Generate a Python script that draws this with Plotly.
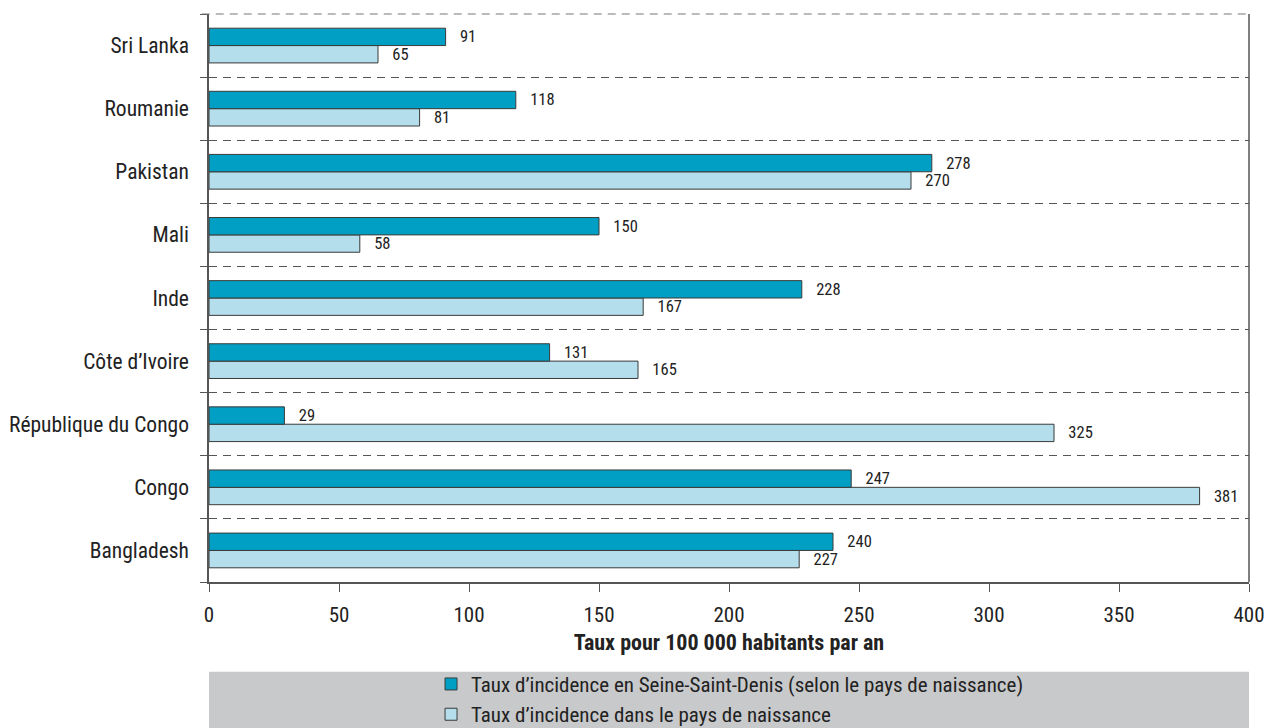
import plotly.graph_objects as go

countries = ["Bangladesh", "Congo", "République du Congo", "Côte d’Ivoire", "Inde",
             "Mali", "Pakistan", "Roumanie", "Sri Lanka"]
ssd_rate = [240, 247, 29, 131, 228, 150, 278, 118, 91]
birth_rate = [227, 381, 325, 165, 167, 58, 270, 81, 65]
x_ticks = [0, 50, 100, 150, 200, 250, 300, 350, 400]

name_ssd = "Taux d’incidence en Seine-Saint-Denis (selon le pays de naissance)"
name_birth = "Taux d’incidence dans le pays de naissance"

FONT = "Roboto Condensed, Archivo Narrow, Liberation Sans, sans-serif"
DARK = "#009fc3"
LIGHT = "#b4deeb"
LINE = "#3a3a3a"

fig = go.Figure()
fig.add_trace(go.Bar(
    y=countries, x=birth_rate, orientation="h", name=name_birth,
    marker=dict(color=LIGHT, line=dict(color=LINE, width=1)),
    text=[f"   {v}" for v in birth_rate], textposition="outside", constraintext="none",
    textfont=dict(size=16.5, color="#222", family=FONT), cliponaxis=False,
))
fig.add_trace(go.Bar(
    y=countries, x=ssd_rate, orientation="h", name=name_ssd,
    marker=dict(color=DARK, line=dict(color=LINE, width=1)),
    text=[f"   {v}" for v in ssd_rate], textposition="outside", constraintext="none",
    textfont=dict(size=16.5, color="#222", family=FONT), cliponaxis=False,
))

# grey legend band
fig.add_shape(type="rect", xref="paper", yref="paper", x0=0, x1=1, y0=-0.27, y1=-0.158,
              fillcolor="#c8c9cb", line=dict(width=0), layer="below")
# right border line
fig.add_shape(type="line", xref="paper", yref="paper", x0=1, x1=1, y0=0, y1=1,
              line=dict(color="#555", width=1.5))
# top dashed boundary line
fig.add_shape(type="line", xref="paper", yref="paper", x0=-0.007, x1=1, y0=1, y1=1,
              line=dict(color="#777", width=1, dash="8px,6px"))

fig.update_layout(
    width=1268, height=728,
    margin=dict(l=209, r=19, t=14, b=146, autoexpand=False),
    paper_bgcolor="white", plot_bgcolor="white",
    barmode="group", bargap=0.45, bargroupgap=0,
    font=dict(family=FONT, size=20, color="#222"),
    showlegend=True,
    legend=dict(x=0.2135, xanchor="left", y=-0.144, yanchor="top",
                traceorder="reversed", bgcolor="rgba(0,0,0,0)",
                font=dict(size=21, family=FONT), tracegroupgap=0),
    xaxis=dict(range=[0, 400], tickvals=x_ticks, ticks="outside", ticklen=8,
               tickcolor="#555", showline=True, linecolor="#555", linewidth=1.5,
               showgrid=False, zeroline=False, tickfont=dict(size=21),
               ticklabelstandoff=5,
               title=dict(text="<b>Taux pour 100 000 habitants par an</b>",
                          font=dict(size=22), standoff=9)),
    yaxis=dict(type="category", categoryorder="array", categoryarray=countries,
               tickson="boundaries", ticks="outside", ticklen=7, tickcolor="#555",
               showline=True, linecolor="#555", linewidth=1.5,
               showgrid=True, gridcolor="#555", griddash="8px,6px", gridwidth=1,
               tickfont=dict(size=21.5), ticklabelstandoff=14),
)

fig.write_html("out.html",
               config={"displayModeBar": False},
               post_script="document.body.style.margin='0';"
                           "document.documentElement.style.overflow='hidden';")
